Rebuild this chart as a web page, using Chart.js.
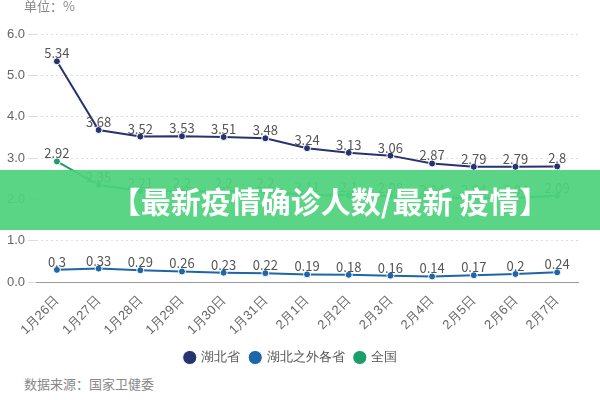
<!DOCTYPE html>
<html><head><meta charset="utf-8">
<script src="https://cdn.jsdelivr.net/npm/chart.js@4"></script>
<style>
body{margin:0;width:600px;height:400px;position:relative;background:#fff;font-family:"Noto Sans CJK SC",sans-serif;overflow:hidden}
#wrap{position:absolute;left:0;top:0;width:600px;height:374px}
#unit{position:absolute;left:24px;top:-4px;font-size:13px;color:#888}
#src{position:absolute;left:24px;top:374px;font-size:13px;color:#888}
#banner{position:absolute;left:0;top:170px;width:600px;height:60px;background:rgba(76,210,124,0.93);color:#fff;font-weight:bold;font-size:30px;line-height:60px;text-align:center;padding-left:60px;box-sizing:border-box}
</style></head><body>
<div id="wrap"><canvas id="c"></canvas></div>
<div id="unit">单位：%</div>
<div id="src">数据来源：国家卫健委</div>
<div id="banner">【最新疫情确诊人数/最新 疫情】</div>
<script>
const dates = ['1月26日','1月27日','1月28日','1月29日','1月30日','1月31日','2月1日','2月2日','2月3日','2月4日','2月5日','2月6日','2月7日'];
const hubei = [5.34,3.68,3.52,3.53,3.51,3.48,3.24,3.13,3.06,2.87,2.79,2.79,2.8];
const others = [0.3,0.33,0.29,0.26,0.23,0.22,0.19,0.18,0.16,0.14,0.17,0.2,0.24];
const national = [2.92,2.35,2.21,2.2,2.2,2.2,2.11,2.1,2.08,2.04,2.04,2.04,2.09];

const labelPlugin = {
  id: 'pointLabels',
  afterDatasetsDraw(chart) {
    const c = chart.ctx;
    c.save();
    c.font = '13px "Noto Sans CJK SC", sans-serif';
    c.fillStyle = '#555';
    c.textAlign = 'center';
    chart.data.datasets.forEach((ds, i) => {
      chart.getDatasetMeta(i).data.forEach((pt, j) => {
        c.fillText(ds.data[j], pt.x, pt.y - 8);
      });
    });
    c.restore();
  }
};

function ds(label, data, color) {
  return { label, data, borderColor: color, backgroundColor: color, borderWidth: 2,
    pointRadius: 3.5, pointBackgroundColor: color, pointBorderColor: '#fff', pointBorderWidth: 1, tension: 0 };
}

new Chart(document.getElementById('c'), {
  type: 'line',
  data: { labels: dates, datasets: [ds('湖北省', hubei, '#27336f'), ds('湖北之外各省', others, '#1d66a8'), ds('全国', national, '#1b9e6c')] },
  options: {
    responsive: true, maintainAspectRatio: false, animation: false,
    layout: { padding: { top: 34, right: 22, left: 4 } },
    scales: {
      x: { offset: true, grid: { display: false }, border: { color: '#999' },
        ticks: { color: '#666', font: { size: 13 }, maxRotation: 45, minRotation: 45 } },
      y: { min: 0, max: 6, grid: { color: '#ddd' }, border: { display: false, dash: [2, 3] },
        ticks: { stepSize: 1, color: '#666', font: { size: 13 }, callback: v => v.toFixed(1) } }
    },
    plugins: {
      legend: { position: 'bottom', labels: { usePointStyle: true, pointStyle: 'circle', boxWidth: 10, boxHeight: 10, color: '#555', font: { size: 13 } } },
      tooltip: { enabled: false }
    }
  },
  plugins: [labelPlugin]
});
</script>
</body></html>
